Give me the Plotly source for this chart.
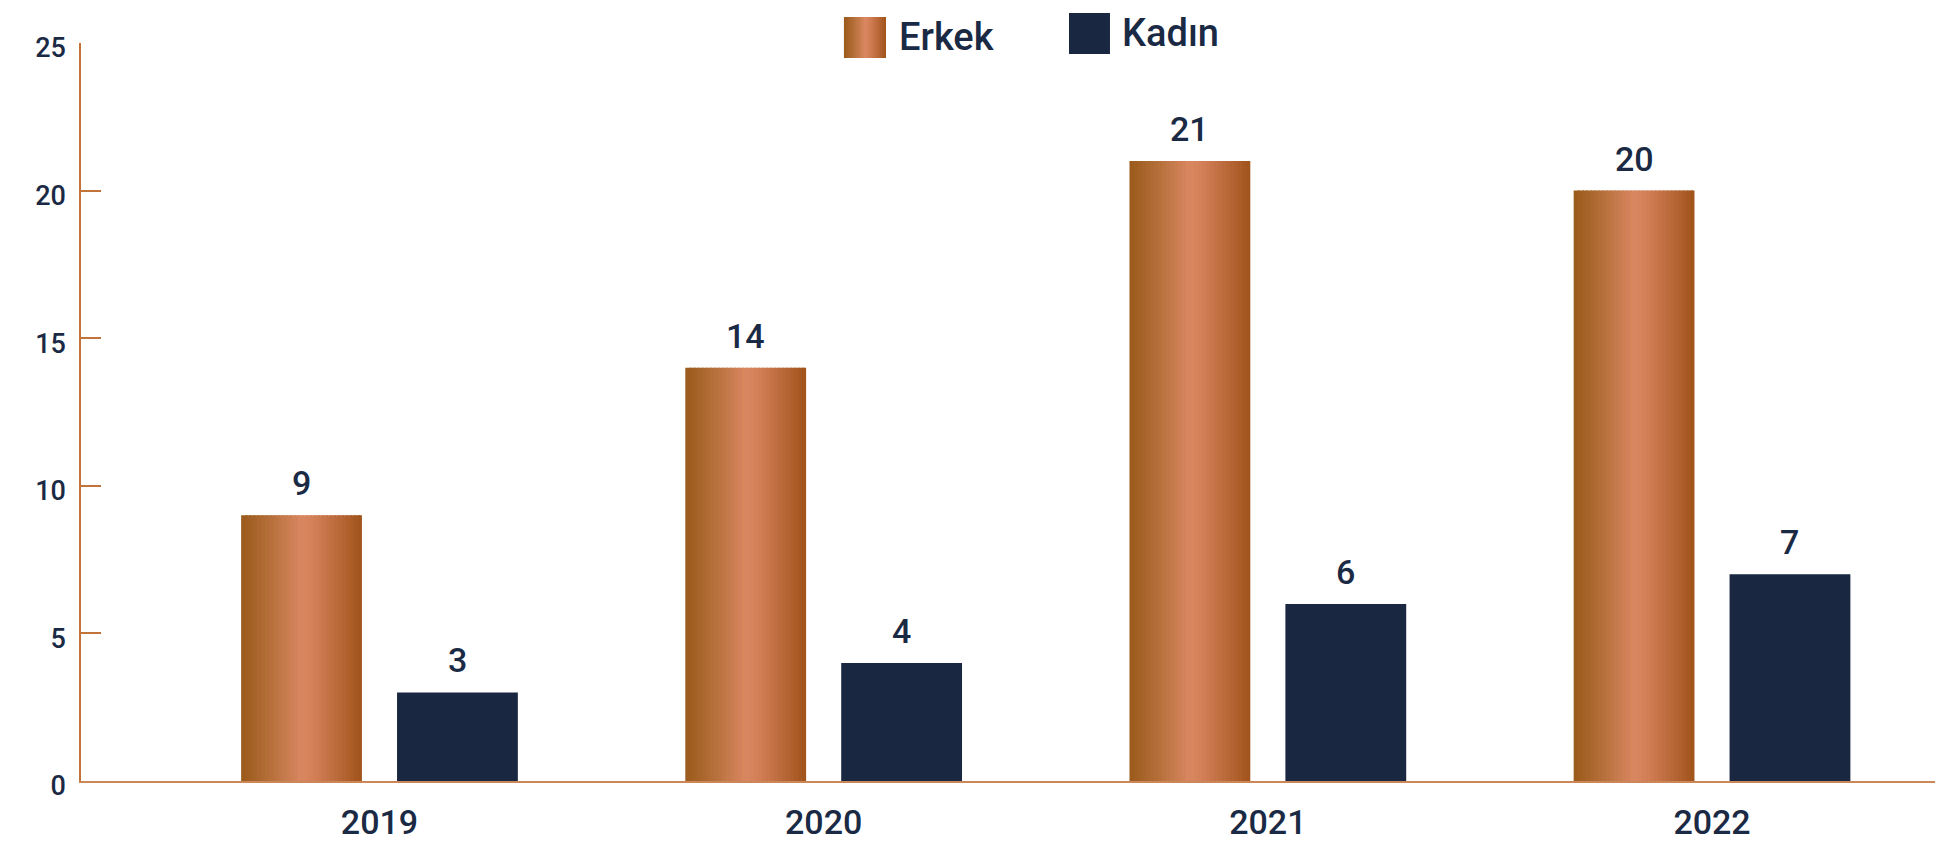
import plotly.graph_objects as go

# Data
years = ["2019", "2020", "2021", "2022"]
erkek = [9, 14, 21, 20]
kadin = [3, 4, 6, 7]
series_names = ["Erkek", "Kadın"]

# Styles
NAVY = "#1A2740"
TEXT = "#1B2A44"
AXIS = "#C2733A"
FONT = "Roboto"
copper_stops = [
    (0.00, "#9A5A1B"),
    (0.20, "#B06C34"),
    (0.50, "#D98761"),
    (0.60, "#D38058"),
    (0.80, "#BA693A"),
    (1.00, "#A0531A"),
]


def _hex(c):
    c = c.lstrip("#")
    return [int(c[i:i + 2], 16) for i in (0, 2, 4)]


def copper(t):
    for (t0, c0), (t1, c1) in zip(copper_stops, copper_stops[1:]):
        if t <= t1:
            f = (t - t0) / (t1 - t0) if t1 > t0 else 0
            a, b = _hex(c0), _hex(c1)
            r = [round(a[i] + (b[i] - a[i]) * f) for i in range(3)]
            return "rgb({},{},{})".format(*r)
    return copper_stops[-1][1]


bar_w = 0.272
inner_gap = 0.079
off_e = -(bar_w + inner_gap / 2)
off_k = inner_gap / 2
N = 30
dw = bar_w / N

fig = go.Figure()

# Erkek bars: narrow, slightly overlapping vertical strips give the copper sheen
for k in range(N):
    w = dw * 1.6 if k < N - 1 else dw
    fig.add_trace(go.Bar(
        x=years, y=erkek, name=series_names[0],
        width=w, offset=off_e + dw * k,
        marker=dict(color=copper((k + 0.5) / N), line=dict(width=0)),
        showlegend=False, hoverinfo="skip" if k else None,
    ))

fig.add_trace(go.Bar(
    x=years, y=kadin, name=series_names[1],
    width=bar_w, offset=off_k,
    marker=dict(color=NAVY, line=dict(width=0)),
    showlegend=False,
))

annotations = []
for i, (e, kv) in enumerate(zip(erkek, kadin)):
    for val, off in ((e, off_e), (kv, off_k)):
        annotations.append(dict(
            x=i + off + bar_w / 2, y=val, xref="x", yref="y",
            text=str(val), showarrow=False, yanchor="bottom", yshift=10,
            font=dict(family=FONT, size=34, color=TEXT, weight=500),
        ))

# Legend drawn by hand so the copper swatch keeps its gradient
shapes = []
sw_x0, sw_x1, sw_y0, sw_y1 = 0.4115, 0.4342, 0.9797, 1.0352
M = 21
for k in range(M):
    shapes.append(dict(
        type="rect", xref="paper", yref="paper", layer="above",
        x0=sw_x0 + (sw_x1 - sw_x0) * k / M,
        x1=sw_x0 + (sw_x1 - sw_x0) * (k + 1.3) / M if k < M - 1 else sw_x1,
        y0=sw_y0, y1=sw_y1,
        fillcolor=copper((k + 0.5) / M), line=dict(width=0),
    ))
shapes.append(dict(
    type="rect", xref="paper", yref="paper",
    x0=0.5329, x1=0.5550, y0=0.9851, y1=1.0407,
    fillcolor=NAVY, line=dict(width=0),
))
annotations.append(dict(
    x=0.4400, y=1.008, xref="paper", yref="paper", text=series_names[0],
    showarrow=False, xanchor="left", yanchor="middle",
    font=dict(family=FONT, size=38, color=TEXT, weight=500),
))
annotations.append(dict(
    x=0.5605, y=1.0142, xref="paper", yref="paper", text=series_names[1],
    showarrow=False, xanchor="left", yanchor="middle",
    font=dict(family=FONT, size=38, color=TEXT, weight=500),
))

fig.update_layout(
    width=1935, height=843,
    margin=dict(l=81, r=0, t=43, b=62),
    paper_bgcolor="white", plot_bgcolor="white",
    barmode="overlay",
    showlegend=False,
    annotations=annotations,
    shapes=shapes,
    xaxis=dict(
        type="category", range=[-0.672, 3.502],
        showline=True, linecolor="#CC8758", linewidth=2,
        ticks="", showgrid=False, zeroline=False,
        tickfont=dict(family=FONT, size=34, color=TEXT, weight=500),
        ticklabelstandoff=10,
    ),
    yaxis=dict(
        range=[0, 25], dtick=5, tick0=0,
        showline=True, linecolor=AXIS, linewidth=1.5,
        ticks="inside", ticklen=20, tickwidth=1.5, tickcolor=AXIS,
        showgrid=False, zeroline=False,
        tickfont=dict(family=FONT, size=27, color=TEXT, weight=500),
        ticklabelstandoff=8, ticklabelshift=5,
    ),
)

fig.write_html("out.html")
